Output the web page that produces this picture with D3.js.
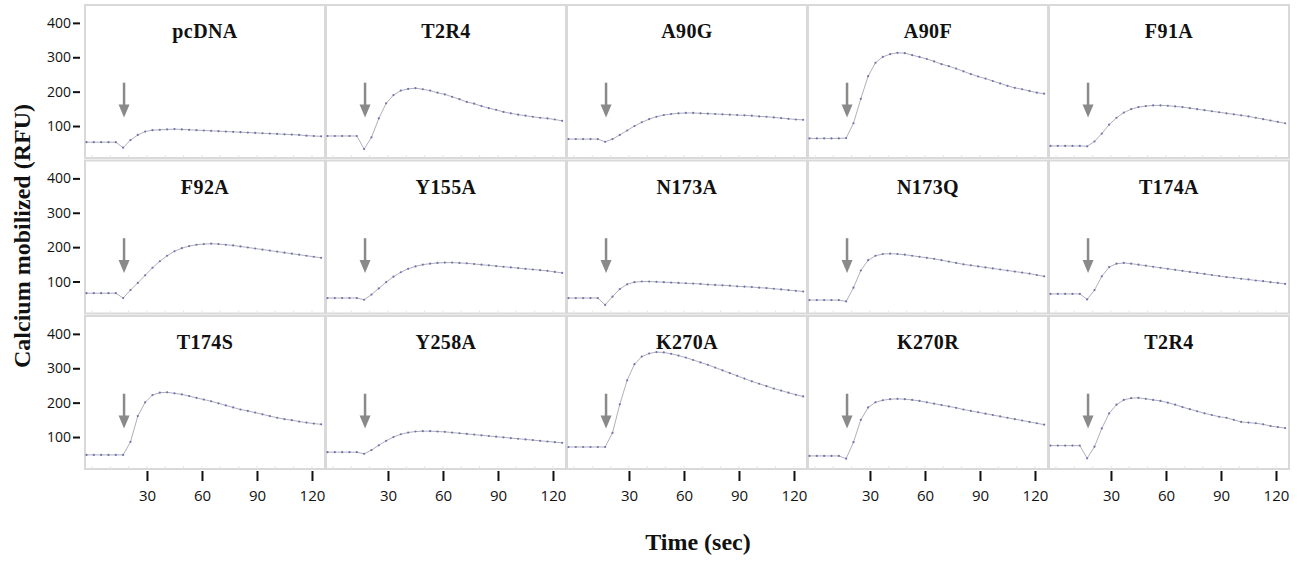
<!DOCTYPE html>
<html>
<head>
<meta charset="utf-8">
<script src="https://d3js.org/d3.v7.min.js"></script>
<style>
  body { margin: 0; background: #fff; }
  svg { display: block; }
</style>
</head>
<body>
<svg id="chart" width="1308" height="561"></svg>
<script>
// time points (sec)
const times = [-3, 1, 5, 9, 13, 17, 21, 25, 29, 33, 37, 41, 45, 49, 53, 57, 61,
  65, 69, 73, 77, 81, 85, 89, 93, 97, 101, 105, 109, 113, 117, 121, 125];

// calcium traces (RFU), one per panel
const pcDNA = [53,53,53,53,53,37,59,74,84,88,89,90,91,90,89,88,87,86,85,84,83,82,81,80,79,78,77,76,75,74,72,71,70];
const t2r4a = [71,71,71,71,71,33,67,122,166,190,203,208,210,207,203,197,192,185,178,170,165,158,152,147,141,137,133,130,127,124,122,119,115];
const a90g  = [62,62,62,62,62,54,62,74,87,100,111,120,127,132,135,137,138,138,137,136,135,134,133,132,131,130,128,127,125,123,121,119,118];
const a90f  = [64,64,64,64,64,65,108,179,245,284,301,309,313,312,306,301,295,288,280,274,267,259,251,244,238,231,224,217,211,207,202,197,194];
const f91a  = [42,42,42,42,42,41,55,78,104,124,139,149,155,158,160,160,159,157,155,152,149,146,143,140,137,134,131,128,124,120,116,112,108];
const f92a  = [66,66,66,66,66,52,75,96,118,140,159,175,188,197,203,207,209,210,209,207,205,202,199,196,193,190,187,184,181,178,175,172,169];
const y155a = [52,52,52,52,52,47,62,80,98,114,127,137,144,149,152,154,155,155,154,153,151,149,147,145,143,141,139,137,135,133,131,128,125];
const n173a = [52,52,52,52,52,32,56,78,92,98,100,100,99,98,97,96,95,94,93,91,90,89,88,86,85,84,82,81,79,77,75,73,71];
const n173q = [46,46,46,46,46,42,82,132,162,175,180,181,180,178,175,172,169,166,162,158,154,150,147,144,141,138,135,132,129,126,123,119,115];
const t174a = [64,64,64,64,64,48,75,115,142,152,154,152,149,146,143,140,137,134,131,128,125,122,119,116,113,111,108,106,103,101,98,96,93];
const t174s = [48,48,48,48,48,48,86,161,201,222,229,230,227,224,219,214,209,204,198,192,186,180,176,171,166,161,156,152,149,145,142,139,137];
const y258a = [56,56,56,56,56,51,62,76,89,100,108,113,116,117,117,116,115,113,111,109,107,105,103,101,99,97,95,93,91,89,87,85,83];
const k270a = [71,71,71,71,71,71,112,195,265,312,334,343,347,346,342,337,331,324,317,310,302,294,286,278,270,262,255,248,241,235,229,223,218];
const k270r = [45,45,45,45,45,37,85,150,186,201,207,210,211,210,208,205,201,197,193,189,185,180,176,172,168,164,160,156,152,148,144,140,136];
const t2r4b = [75,75,75,75,75,38,72,125,169,194,208,213,214,211,208,205,200,194,187,181,175,169,164,159,156,150,144,142,140,137,132,129,126];

const panelNames = ["pcDNA", "T2R4", "A90G", "A90F", "F91A",
  "F92A", "Y155A", "N173A", "N173Q", "T174A",
  "T174S", "Y258A", "K270A", "K270R", "T2R4"];
const panelValues = [pcDNA, t2r4a, a90g, a90f, f91a,
  f92a, y155a, n173a, n173q, t174a,
  t174s, y258a, k270a, k270r, t2r4b];

const yTicks = [100, 200, 300, 400];
const xTicks = [30, 60, 90, 120];
const arrowTime = 17.5;
const arrowFrom = 226, arrowTo = 125;

// layout
const svg = d3.select("#chart");
const left0 = 85, top0 = 5, pw = 240, ph = 153, colStep = 241, rowStep = 155.5;
const nCols = 5;

const x = d3.scaleLinear().domain([-3.8, 127.1]).range([0, pw]);
const y = d3.scaleLinear().domain([7, 452]).range([ph, 0]);

const line = d3.line()
  .x((d, i) => x(times[i]))
  .y(d => y(d));

const panels = svg.selectAll(".panel")
  .data(panelNames.map((name, i) => ({ name, values: panelValues[i], col: i % nCols, row: Math.floor(i / nCols) })))
  .join("g")
    .attr("class", "panel")
    .attr("transform", d => `translate(${left0 + d.col * colStep}, ${top0 + d.row * rowStep})`);

panels.append("rect")
    .attr("width", pw)
    .attr("height", ph)
    .attr("fill", "#fff")
    .attr("stroke", "#d9d9d9")
    .attr("stroke-width", 2);

// faint minor ticks along the bottom edge
panels.append("g")
    .attr("stroke", "#e4e4e4")
    .attr("stroke-width", 1)
  .selectAll("line")
  .data(d3.range(0, 130, 10))
  .join("line")
    .attr("x1", d => x(d))
    .attr("x2", d => x(d))
    .attr("y1", ph - 3)
    .attr("y2", ph);

panels.append("text")
    .attr("x", pw / 2)
    .attr("y", 33)
    .attr("text-anchor", "middle")
    .attr("font-family", "'Liberation Serif', 'Times New Roman', serif")
    .attr("font-weight", "bold")
    .attr("font-size", 20)
    .attr("letter-spacing", 0.4)
    .attr("fill", "#111")
    .text(d => d.name);

// arrow marking compound addition
const arrows = panels.append("g")
    .attr("fill", "#8a8a8a")
    .attr("stroke", "#8a8a8a");
arrows.append("line")
    .attr("x1", x(arrowTime))
    .attr("x2", x(arrowTime))
    .attr("y1", y(arrowFrom))
    .attr("y2", y(arrowTo) - 10)
    .attr("stroke-width", 2.5);
arrows.append("path")
    .attr("stroke", "none")
    .attr("d", () => {
      const ax = x(arrowTime), tip = y(arrowTo);
      return `M${ax - 5.5},${tip - 13}L${ax + 5.5},${tip - 13}L${ax},${tip}Z`;
    });

panels.append("path")
    .attr("d", d => line(d.values))
    .attr("fill", "none")
    .attr("stroke", "#b0b0bc")
    .attr("stroke-width", 1);

panels.append("g")
    .attr("fill", "#7272b2")
  .selectAll("circle")
  .data(d => d.values)
  .join("circle")
    .attr("cx", (d, i) => x(times[i]))
    .attr("cy", d => y(d))
    .attr("r", 1.1);

// y axes (first column)
d3.range(3).forEach(r => {
  const g = svg.append("g")
      .attr("transform", `translate(${left0 - 5}, ${top0 + r * rowStep})`)
      .call(d3.axisLeft(y).tickValues(yTicks).tickSize(7).tickPadding(2));
  g.select(".domain").remove();
  g.selectAll(".tick line").attr("stroke", "#111").attr("stroke-width", 2);
  g.selectAll(".tick text")
      .attr("font-family", "'Open Sans', sans-serif")
      .attr("font-size", 14)
      .attr("fill", "#111");
});

// x axes (bottom row)
d3.range(nCols).forEach(c => {
  const g = svg.append("g")
      .attr("transform", `translate(${left0 + c * colStep}, 471)`)
      .call(d3.axisBottom(x).tickValues(xTicks).tickSize(10).tickPadding(9));
  g.select(".domain").remove();
  g.selectAll(".tick line").attr("stroke", "#111").attr("stroke-width", 2);
  g.selectAll(".tick text")
      .attr("font-family", "'Open Sans', sans-serif")
      .attr("font-size", 15)
      .attr("fill", "#111");
});

svg.append("text")
    .attr("x", 698)
    .attr("y", 550)
    .attr("text-anchor", "middle")
    .attr("font-family", "'Liberation Serif', 'Times New Roman', serif")
    .attr("font-weight", "bold")
    .attr("font-size", 24)
    .attr("fill", "#111")
    .text("Time (sec)");

svg.append("text")
    .attr("transform", "translate(30, 236) rotate(-90)")
    .attr("text-anchor", "middle")
    .attr("font-family", "'Liberation Serif', 'Times New Roman', serif")
    .attr("font-weight", "bold")
    .attr("font-size", 24)
    .attr("fill", "#111")
    .text("Calcium mobilized (RFU)");
</script>
</body>
</html>
